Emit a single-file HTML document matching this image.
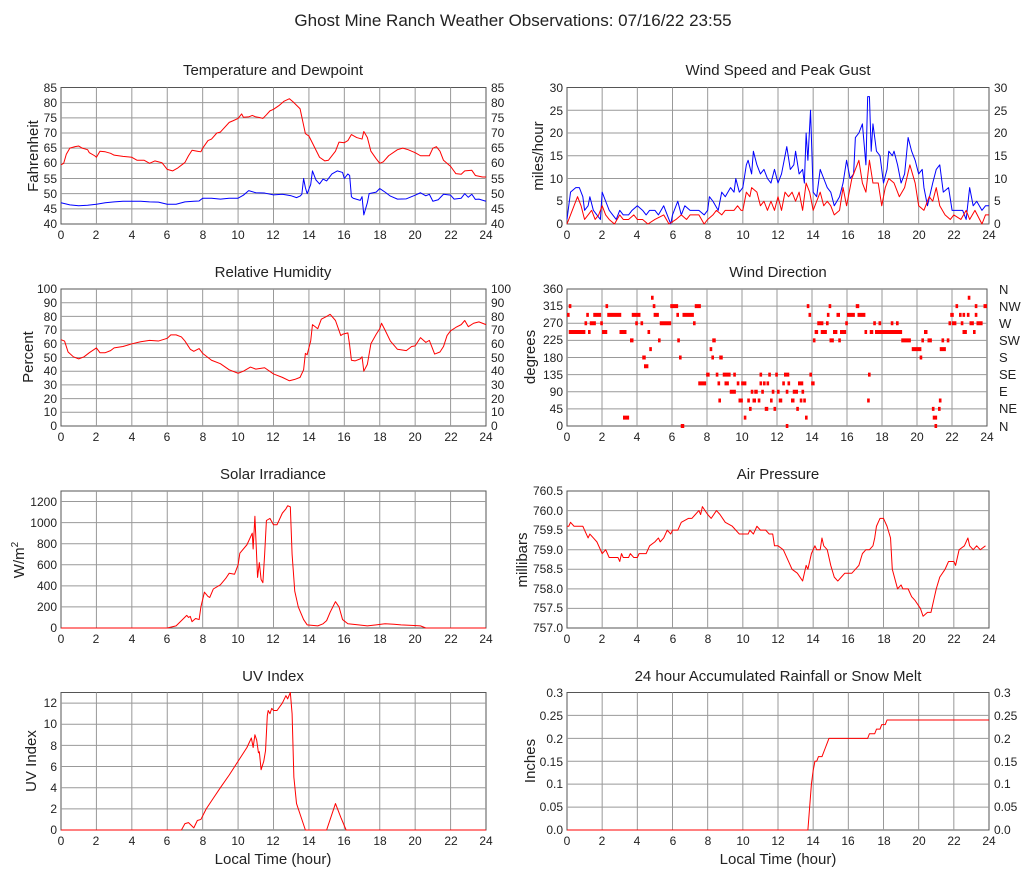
<!DOCTYPE html>
<html><head><meta charset="utf-8"><style>
body{margin:0;background:#fff}
svg{font-family:"Liberation Sans",sans-serif;fill:#222}
.t{font-size:12px}
.l text{text-anchor:end}
.r text{text-anchor:start}
.x text{text-anchor:middle}
.h{font-size:15px;text-anchor:middle}
.g{fill:none;stroke:#999;stroke-width:1}
.f{fill:none;stroke:#555;stroke-width:1}
.s{fill:none;stroke-width:1;stroke-linejoin:round}
</style></head><body>
<svg width="1027" height="878" viewBox="0 0 1027 878" xmlns="http://www.w3.org/2000/svg">
<rect width="1027" height="878" fill="#fff"/>
<text x="513" y="26" style="font-size:17px;text-anchor:middle">Ghost Mine Ranch Weather Observations: 07/16/22 23:55</text>

<text class="h" x="273" y="75">Temperature and Dewpoint</text>
<text class="h" x="778" y="75">Wind Speed and Peak Gust</text>
<text class="h" x="273" y="277">Relative Humidity</text>
<text class="h" x="778" y="277">Wind Direction</text>
<text class="h" x="273" y="479">Solar Irradiance</text>
<text class="h" x="778" y="479">Air Pressure</text>
<text class="h" x="273" y="681">UV Index</text>
<text class="h" x="778" y="681">24 hour Accumulated Rainfall or Snow Melt</text>
<text class="h" x="273" y="864">Local Time (hour)</text>
<text class="h" x="778" y="864">Local Time (hour)</text>

<text class="h" transform="translate(38,156) rotate(-90)">Fahrenheit</text>
<text class="h" transform="translate(33,357) rotate(-90)">Percent</text>
<text class="h" transform="translate(24,560) rotate(-90)">W/m<tspan dy="-6" font-size="10">2</tspan></text>
<text class="h" transform="translate(36,761) rotate(-90)">UV Index</text>
<text class="h" transform="translate(543,156) rotate(-90)">miles/hour</text>
<text class="h" transform="translate(535,357) rotate(-90)">degrees</text>
<text class="h" transform="translate(527,560) rotate(-90)">millibars</text>
<text class="h" transform="translate(535,761) rotate(-90)">Inches</text>

<!-- Temperature -->
<rect class="f" x="61" y="87.5" width="425" height="136.5"/>
<svg x="61" y="87.5" width="425" height="136.5" viewBox="0 -85 24 45" preserveAspectRatio="none" overflow="visible">
<path class="g" vector-effect="non-scaling-stroke" d="M0 -80H24M0 -75H24M0 -70H24M0 -65H24M0 -60H24M0 -55H24M0 -50H24M0 -45H24M2 -85V-40M4 -85V-40M6 -85V-40M8 -85V-40M10 -85V-40M12 -85V-40M14 -85V-40M16 -85V-40M18 -85V-40M20 -85V-40M22 -85V-40"/>
<polyline class="s" stroke="#f00" vector-effect="non-scaling-stroke" points="0,-59.5 0.15,-60 0.3,-63 0.5,-65 0.8,-65.5 1,-65.7 1.2,-65 1.5,-64.5 1.6,-63.5 1.9,-62.5 2,-62 2.2,-64 2.5,-63.8 2.8,-63.3 3,-62.7 3.5,-62.3 4,-62 4.3,-61 4.7,-61 5,-60 5.3,-60.8 5.7,-60.2 6,-58 6.3,-57.5 6.6,-58.5 7,-60.3 7.2,-62.5 7.4,-64.3 7.7,-64 7.9,-63.8 8,-65 8.3,-67.5 8.5,-68 8.8,-70 9,-70.3 9.5,-73.5 9.7,-74 10,-74.8 10.2,-76.3 10.3,-75.2 10.6,-75.3 10.8,-75.8 11,-75.3 11.2,-75.1 11.4,-74.8 11.6,-76 11.8,-77.3 12,-77.8 12.3,-79 12.6,-80.5 12.9,-81.3 13.1,-80.3 13.5,-78 13.8,-69.8 14,-69 14.3,-65.5 14.6,-62 14.9,-60.8 15.1,-61 15.5,-64 15.7,-67 16,-66.8 16.2,-67.5 16.4,-69.5 16.7,-68.5 17,-68 17.1,-70.5 17.3,-68.5 17.5,-64 17.8,-61.5 18,-60 18.2,-60.5 18.5,-62.5 19,-64.5 19.3,-65 19.6,-64.5 20,-63.5 20.3,-62.5 20.8,-62.5 21,-65 21.2,-65.5 21.4,-64 21.6,-61 22,-59 22.3,-56.6 22.6,-56.4 22.8,-57.5 23.2,-57.7 23.4,-56 23.8,-55.5 24,-55.5"/>
<polyline class="s" stroke="#00f" vector-effect="non-scaling-stroke" points="0,-47 0.5,-46.3 1,-46 1.5,-46.2 2,-46.5 2.5,-47 3,-47.3 3.5,-47.5 4,-47.5 4.5,-47.5 5,-47.3 5.5,-47.2 6,-46.5 6.5,-46.5 7,-47.3 7.5,-47.5 7.8,-47.6 8,-48.5 8.5,-48.5 9,-48.2 9.5,-48.5 10,-48.5 10.3,-49.5 10.6,-51 11,-50.3 11.5,-50.2 12,-49.6 12.5,-49.8 13,-49.3 13.3,-48.7 13.5,-49.2 13.6,-49.8 13.7,-55 13.8,-52 13.9,-50 14.1,-53 14.2,-57.5 14.4,-54.5 14.6,-53.2 14.8,-54.8 15,-54.2 15.3,-56.5 15.6,-57.5 15.9,-57 16,-55 16.2,-56.5 16.3,-56 16.4,-49 16.5,-48.5 16.9,-47.8 17,-49 17.1,-43 17.3,-47 17.4,-50 17.8,-50.5 18,-51.7 18.3,-50.5 18.6,-49.2 19,-48.2 19.5,-48.3 20,-49.5 20.3,-50.3 20.6,-49.3 20.8,-49.8 21,-47.5 21.3,-48 21.6,-49.8 22,-49.5 22.2,-48.2 22.6,-48.5 22.8,-50 23,-48.8 23.2,-49.8 23.4,-48.1 23.6,-48.2 24,-47.5"/>
</svg>
<g class="t l"><text x="57" y="92">85</text><text x="57" y="107">80</text><text x="57" y="122">75</text><text x="57" y="137">70</text><text x="57" y="152">65</text><text x="57" y="167">60</text><text x="57" y="183">55</text><text x="57" y="198">50</text><text x="57" y="213">45</text><text x="57" y="228">40</text></g>
<g class="t r"><text x="491" y="92">85</text><text x="491" y="107">80</text><text x="491" y="122">75</text><text x="491" y="137">70</text><text x="491" y="152">65</text><text x="491" y="167">60</text><text x="491" y="183">55</text><text x="491" y="198">50</text><text x="491" y="213">45</text><text x="491" y="228">40</text></g>
<g class="t x"><text x="61" y="239">0</text><text x="96" y="239">2</text><text x="132" y="239">4</text><text x="167" y="239">6</text><text x="203" y="239">8</text><text x="238" y="239">10</text><text x="273" y="239">12</text><text x="309" y="239">14</text><text x="344" y="239">16</text><text x="380" y="239">18</text><text x="415" y="239">20</text><text x="451" y="239">22</text><text x="486" y="239">24</text></g>

<!-- Humidity -->
<rect class="f" x="61" y="289" width="425" height="137"/>
<svg x="61" y="289" width="425" height="137" viewBox="0 -100 24 100" preserveAspectRatio="none" overflow="visible">
<path class="g" vector-effect="non-scaling-stroke" d="M0 -90H24M0 -80H24M0 -70H24M0 -60H24M0 -50H24M0 -40H24M0 -30H24M0 -20H24M0 -10H24M2 -100V0M4 -100V0M6 -100V0M8 -100V0M10 -100V0M12 -100V0M14 -100V0M16 -100V0M18 -100V0M20 -100V0M22 -100V0"/>
<polyline class="s" stroke="#f00" vector-effect="non-scaling-stroke" points="0,-63 0.2,-62 0.4,-54 0.7,-50.5 1,-49 1.3,-50.5 1.6,-53.5 2,-57 2.2,-53.5 2.5,-53.5 2.8,-55 3,-57 3.5,-58 4,-60 4.5,-61.5 5,-62.5 5.5,-62 6,-64 6.2,-66.5 6.5,-66.5 6.8,-65 7,-62 7.3,-56 7.5,-54.5 7.8,-56.5 8,-53 8.5,-48 9,-45.5 9.5,-41 10,-38.5 10.3,-40 10.7,-43 11,-41.5 11.5,-42.5 12,-38 12.5,-35.5 12.9,-33 13.2,-34 13.5,-35.5 13.7,-41 13.8,-53 13.9,-52 14.1,-62 14.2,-74 14.5,-71 14.7,-78 15,-80 15.2,-81.5 15.5,-77 15.8,-66 15.9,-67 16.2,-68 16.3,-59 16.4,-48 16.6,-47.5 16.9,-49 17,-50.5 17.1,-40 17.3,-45 17.5,-60 17.8,-67 18,-71 18.1,-75 18.3,-70 18.6,-62 19,-56 19.5,-55 19.8,-58 20,-58.5 20.3,-64.5 20.6,-61 20.8,-62.5 21.1,-52.5 21.4,-54 21.6,-58 21.8,-66 22,-69.5 22.3,-72 22.6,-74 22.8,-77 23,-72.5 23.3,-75 23.6,-76 24,-74"/>
</svg>
<g class="t l"><text x="57" y="293">100</text><text x="57" y="307">90</text><text x="57" y="321">80</text><text x="57" y="334">70</text><text x="57" y="348">60</text><text x="57" y="362">50</text><text x="57" y="375">40</text><text x="57" y="389">30</text><text x="57" y="403">20</text><text x="57" y="416">10</text><text x="57" y="430">0</text></g>
<g class="t r"><text x="491" y="293">100</text><text x="491" y="307">90</text><text x="491" y="321">80</text><text x="491" y="334">70</text><text x="491" y="348">60</text><text x="491" y="362">50</text><text x="491" y="375">40</text><text x="491" y="389">30</text><text x="491" y="403">20</text><text x="491" y="416">10</text><text x="491" y="430">0</text></g>
<g class="t x"><text x="61" y="441">0</text><text x="96" y="441">2</text><text x="132" y="441">4</text><text x="167" y="441">6</text><text x="203" y="441">8</text><text x="238" y="441">10</text><text x="273" y="441">12</text><text x="309" y="441">14</text><text x="344" y="441">16</text><text x="380" y="441">18</text><text x="415" y="441">20</text><text x="451" y="441">22</text><text x="486" y="441">24</text></g>

<!-- Solar -->
<rect class="f" x="61" y="491" width="425" height="137"/>
<svg x="61" y="491" width="425" height="137" viewBox="0 -1300 24 1300" preserveAspectRatio="none" overflow="visible">
<path class="g" vector-effect="non-scaling-stroke" d="M0 -1200H24M0 -1000H24M0 -800H24M0 -600H24M0 -400H24M0 -200H24M2 -1300V0M4 -1300V0M6 -1300V0M8 -1300V0M10 -1300V0M12 -1300V0M14 -1300V0M16 -1300V0M18 -1300V0M20 -1300V0M22 -1300V0"/>
<polyline class="s" stroke="#f00" vector-effect="non-scaling-stroke" points="0,0 6,0 6.5,-20 6.8,-70 7.1,-120 7.2,-100 7.3,-110 7.4,-60 7.6,-90 7.8,-80 7.9,-200 8.1,-340 8.3,-300 8.4,-290 8.6,-370 9,-410 9.3,-470 9.5,-520 9.8,-510 10,-600 10.1,-710 10.5,-790 10.8,-900 10.85,-750 10.95,-1060 11.1,-480 11.2,-620 11.3,-460 11.4,-430 11.5,-700 11.6,-1020 11.8,-1040 12,-980 12.2,-980 12.5,-1090 12.7,-1130 12.8,-1160 12.95,-1150 13.05,-700 13.2,-350 13.4,-200 13.7,-80 13.9,-30 14.5,-20 14.8,-40 15,-70 15.2,-150 15.5,-250 15.7,-200 15.9,-80 16.2,-40 16.8,-30 17.3,-20 17.8,-30 18.3,-40 18.8,-35 19.2,-30 19.8,-25 20.3,-20 20.6,0 24,0"/>
</svg>
<g class="t l"><text x="57" y="506">1200</text><text x="57" y="527">1000</text><text x="57" y="548">800</text><text x="57" y="569">600</text><text x="57" y="590">400</text><text x="57" y="611">200</text><text x="57" y="632">0</text></g>
<g class="t x"><text x="61" y="643">0</text><text x="96" y="643">2</text><text x="132" y="643">4</text><text x="167" y="643">6</text><text x="203" y="643">8</text><text x="238" y="643">10</text><text x="273" y="643">12</text><text x="309" y="643">14</text><text x="344" y="643">16</text><text x="380" y="643">18</text><text x="415" y="643">20</text><text x="451" y="643">22</text><text x="486" y="643">24</text></g>

<!-- UV -->
<rect class="f" x="61" y="692.5" width="425" height="137.5"/>
<svg x="61" y="692.5" width="425" height="137.5" viewBox="0 -13 24 13" preserveAspectRatio="none" overflow="visible">
<path class="g" vector-effect="non-scaling-stroke" d="M0 -12H24M0 -10H24M0 -8H24M0 -6H24M0 -4H24M0 -2H24M2 -13V0M4 -13V0M6 -13V0M8 -13V0M10 -13V0M12 -13V0M14 -13V0M16 -13V0M18 -13V0M20 -13V0M22 -13V0"/>
<polyline class="s" stroke="#f00" vector-effect="non-scaling-stroke" points="0,0 6.8,0 7,-0.6 7.2,-0.7 7.5,-0.2 7.7,-0.9 7.9,-1 8.2,-2 8.6,-3 9,-4 9.5,-5.2 10,-6.5 10.5,-7.8 10.75,-8.7 10.85,-7.8 10.95,-9 11.05,-8.5 11.15,-7.3 11.2,-7.4 11.3,-5.7 11.45,-6.5 11.55,-7.5 11.65,-10.8 11.7,-11.3 11.8,-11 11.9,-11.5 12,-11.3 12.2,-11.3 12.5,-12 12.7,-12.7 12.8,-12.4 12.95,-13 13.05,-11 13.15,-5 13.3,-2.5 13.5,-1.5 13.8,0 15,0 15.5,-2.5 15.8,-1.2 16.1,0 24,0"/>
</svg>
<g class="t l"><text x="57" y="707">12</text><text x="57" y="728">10</text><text x="57" y="750">8</text><text x="57" y="771">6</text><text x="57" y="792">4</text><text x="57" y="813">2</text><text x="57" y="834">0</text></g>
<g class="t x"><text x="61" y="845">0</text><text x="96" y="845">2</text><text x="132" y="845">4</text><text x="167" y="845">6</text><text x="203" y="845">8</text><text x="238" y="845">10</text><text x="273" y="845">12</text><text x="309" y="845">14</text><text x="344" y="845">16</text><text x="380" y="845">18</text><text x="415" y="845">20</text><text x="451" y="845">22</text><text x="486" y="845">24</text></g>

<!-- Wind speed -->
<rect class="f" x="567" y="87.5" width="422" height="136.5"/>
<svg x="567" y="87.5" width="422" height="136.5" viewBox="0 -30 24 30" preserveAspectRatio="none" overflow="visible">
<path class="g" vector-effect="non-scaling-stroke" d="M0 -25H24M0 -20H24M0 -15H24M0 -10H24M0 -5H24M2 -30V0M4 -30V0M6 -30V0M8 -30V0M10 -30V0M12 -30V0M14 -30V0M16 -30V0M18 -30V0M20 -30V0M22 -30V0"/>
<polyline class="s" stroke="#00f" vector-effect="non-scaling-stroke" points="0,-1 0.2,-7 0.5,-8 0.7,-8 0.9,-6 1,-3 1.2,-4 1.3,-6 1.5,-3 1.7,-2 1.9,-1 2,-7 2.2,-5 2.4,-3 2.6,-2 2.8,-1 3,-3 3.2,-2 3.5,-2 3.7,-3 4,-4 4.3,-3 4.5,-2 4.7,-3 5,-3 5.2,-2 5.5,-4 5.7,-2 5.9,0 6,-2 6.3,-5 6.5,-2 6.7,-4 7,-3 7.5,-3 7.8,-2 8,-3 8.1,-6 8.3,-5 8.6,-3 8.8,-7 9,-6 9.3,-8 9.5,-7 9.6,-10 9.8,-7 10,-8 10.2,-13 10.3,-14 10.5,-11 10.6,-16 10.8,-13 11,-11 11.2,-12 11.4,-10 11.6,-9 11.8,-12 12,-9 12.2,-11 12.4,-15 12.5,-17 12.7,-12 12.9,-13 13,-16 13.2,-11 13.4,-12 13.5,-9 13.6,-20 13.7,-14 13.85,-25 14,-7 14.2,-6 14.4,-12 14.6,-10 14.8,-8 15,-7 15.2,-4 15.5,-6 15.7,-9 15.9,-14 16.1,-10 16.3,-11 16.4,-19 16.6,-20 16.8,-22 17,-13 17.1,-28 17.2,-28 17.3,-16 17.4,-22 17.6,-16 17.8,-15 18,-9 18.2,-12 18.3,-16 18.5,-15 18.6,-16 18.8,-13 19,-9 19.2,-11 19.4,-19 19.6,-16 19.8,-14 20,-11 20.2,-12 20.3,-8 20.5,-4 20.8,-9 21,-12 21.2,-13 21.4,-7 21.7,-8 21.9,-3 22.2,-3 22.5,-3 22.7,-1 22.9,-8 23.1,-4 23.3,-5 23.6,-3 23.8,-4 24,-4"/>
<polyline class="s" stroke="#f00" vector-effect="non-scaling-stroke" points="0,0 0.2,-2 0.4,-4 0.6,-6 0.8,-4 1,-1 1.2,-2 1.4,-3 1.6,-1 1.8,-2 2,-4 2.2,-2 2.4,-1 2.7,0 3,-2 3.2,-1 3.5,-1 3.8,-2 4,-1 4.3,-1 4.6,0 5,-1 5.5,-2 5.8,0 6.2,-1 6.5,-2 6.8,-1 7,-2 7.5,-2 7.8,0 8,-1 8.3,-2 8.5,-3 8.8,-2 9,-3 9.5,-3 9.7,-4 9.9,-3 10,-3 10.2,-7 10.4,-6 10.5,-8 10.8,-7 11,-4 11.2,-5 11.4,-3 11.6,-5 11.8,-3 12,-6 12.2,-3 12.4,-7 12.6,-6 12.8,-7 13,-5 13.2,-7 13.4,-3 13.6,-9 13.8,-7 14,-3 14.2,-5 14.4,-7 14.6,-4 14.8,-5 15,-4 15.2,-2 15.5,-3 15.7,-8 15.9,-4 16.2,-10 16.4,-12 16.6,-14 16.8,-9 17,-7 17.2,-14 17.4,-9 17.7,-9 17.9,-4 18.1,-8 18.3,-10 18.6,-9 18.9,-6 19.2,-8 19.5,-13 19.8,-9 20,-4 20.3,-3 20.6,-6 20.8,-5 21,-8 21.2,-4 21.5,-2 21.8,-1 22,-2 22.4,-1 22.7,-3 22.9,-1 23.2,-3 23.6,0 23.8,-2 24,-2"/>
</svg>
<g class="t l"><text x="563" y="92">30</text><text x="563" y="115">25</text><text x="563" y="137">20</text><text x="563" y="160">15</text><text x="563" y="183">10</text><text x="563" y="205">5</text><text x="563" y="228">0</text></g>
<g class="t r"><text x="994" y="92">30</text><text x="994" y="115">25</text><text x="994" y="137">20</text><text x="994" y="160">15</text><text x="994" y="183">10</text><text x="994" y="205">5</text><text x="994" y="228">0</text></g>
<g class="t x"><text x="567" y="239">0</text><text x="602" y="239">2</text><text x="637" y="239">4</text><text x="673" y="239">6</text><text x="708" y="239">8</text><text x="743" y="239">10</text><text x="778" y="239">12</text><text x="813" y="239">14</text><text x="848" y="239">16</text><text x="884" y="239">18</text><text x="919" y="239">20</text><text x="954" y="239">22</text><text x="989" y="239">24</text></g>

<!-- Wind direction -->
<rect class="f" x="567" y="289" width="420" height="137"/>
<svg x="567" y="289" width="420" height="137" viewBox="0 -360 24 360" preserveAspectRatio="none" overflow="visible">
<path class="g" vector-effect="non-scaling-stroke" d="M0 -315H24M0 -270H24M0 -225H24M0 -180H24M0 -135H24M0 -90H24M0 -45H24M2 -360V0M4 -360V0M6 -360V0M8 -360V0M10 -360V0M12 -360V0M14 -360V0M16 -360V0M18 -360V0M20 -360V0M22 -360V0"/>
<path fill="none" stroke="#f00" stroke-width="4" vector-effect="non-scaling-stroke" d="M0 -292h0.15M0.1 -315h0.15M0.1 -247h0.95M1 -270h0.15M1.1 -292h0.15M1.2 -247h0.15M1.3 -270h0.35M1.5 -292h0.45M1.9 -270h0.15M2 -247h0.3M2.2 -315h0.15M2.3 -292h0.8M3 -247h0.4M3.2 -22h0.35M3.6 -225h0.2M3.7 -292h0.5M3.9 -270h0.15M4.2 -270h0.15M4.3 -180h0.2M4.4 -157h0.25M4.6 -247h0.15M4.7 -202h0.15M4.8 -337h0.15M4.9 -315h0.15M4.95 -292h0.3M5.2 -225h0.15M5.3 -270h0.65M5.9 -315h0.45M6.25 -292h0.15M6.3 -225h0.15M6.4 -180h0.15M6.5 -0h0.2M6.6 -292h0.65M7.2 -270h0.15M7.3 -315h0.35M7.5 -112h0.45M7.95 -135h0.2M8.15 -202h0.15M8.25 -180h0.15M8.3 -225h0.2M8.5 -135h0.15M8.6 -112h0.15M8.65 -67h0.15M8.7 -180h0.2M8.9 -135h0.45M9 -112h0.25M9.3 -90h0.35M9.5 -135h0.15M9.7 -112h0.15M9.8 -67h0.25M9.95 -112h0.3M10.1 -22h0.15M10.3 -67h0.15M10.4 -45h0.15M10.5 -90h0.15M10.6 -67h0.2M10.7 -90h0.2M10.9 -67h0.15M11 -112h0.15M11 -135h0.15M11.1 -90h0.15M11.2 -112h0.15M11.3 -45h0.2M11.4 -112h0.15M11.5 -135h0.15M11.6 -67h0.15M11.7 -90h0.15M11.8 -45h0.15M11.9 -135h0.15M12 -90h0.15M12.1 -67h0.2M12.3 -112h0.15M12.4 -135h0.3M12.5 -90h0.15M12.5 -0h0.15M12.6 -112h0.15M12.8 -67h0.2M12.9 -90h0.3M13.1 -45h0.15M13.2 -112h0.3M13.3 -67h0.15M13.4 -90h0.15M13.5 -67h0.15M13.6 -22h0.15M13.7 -315h0.15M13.8 -292h0.15M13.85 -135h0.15M13.95 -112h0.2M14.05 -225h0.15M14.15 -247h0.2M14.3 -270h0.35M14.5 -247h0.35M14.8 -270h0.15M14.85 -292h0.15M14.95 -315h0.15M15 -225h0.25M15.2 -247h0.25M15.4 -292h0.2M15.5 -225h0.15M15.6 -247h0.35M15.9 -270h0.15M16 -292h0.45M16.5 -315h0.2M16.6 -292h0.45M17 -247h0.15M17.15 -67h0.15M17.2 -135h0.15M17.3 -247h0.2M17.5 -270h0.15M17.6 -247h0.15M17.8 -270h0.15M17.7 -247h1.45M18.5 -270h0.15M18.8 -270h0.15M19.1 -225h0.55M19.7 -202h0.55M20.15 -180h0.15M20.25 -225h0.15M20.4 -247h0.2M20.6 -225h0.25M20.85 -45h0.15M20.9 -22h0.25M21 -0h0.15M21.2 -45h0.15M21.25 -67h0.15M21.3 -202h0.35M21.4 -225h0.15M21.7 -225h0.15M21.8 -270h0.15M21.9 -292h0.2M22 -270h0.25M22.2 -315h0.15M22.4 -292h0.15M22.5 -270h0.15M22.6 -292h0.15M22.6 -247h0.25M22.85 -292h0.15M22.9 -337h0.15M23 -270h0.25M23.2 -247h0.15M23.3 -315h0.15M23.3 -292h0.15M23.4 -270h0.35M23.8 -315h0.2"/>
</svg>
<g class="t l"><text x="563" y="293">360</text><text x="563" y="310">315</text><text x="563" y="327">270</text><text x="563" y="344">225</text><text x="563" y="362">180</text><text x="563" y="379">135</text><text x="563" y="396">90</text><text x="563" y="413">45</text><text x="563" y="430">0</text></g>
<g class="t r" style="font-size:13px"><text x="999" y="294">N</text><text x="999" y="311">NW</text><text x="999" y="328">W</text><text x="999" y="345">SW</text><text x="999" y="362">S</text><text x="999" y="379">SE</text><text x="999" y="396">E</text><text x="999" y="413">NE</text><text x="999" y="431">N</text></g>
<g class="t x"><text x="567" y="441">0</text><text x="602" y="441">2</text><text x="637" y="441">4</text><text x="672" y="441">6</text><text x="707" y="441">8</text><text x="742" y="441">10</text><text x="777" y="441">12</text><text x="812" y="441">14</text><text x="847" y="441">16</text><text x="882" y="441">18</text><text x="917" y="441">20</text><text x="952" y="441">22</text><text x="987" y="441">24</text></g>

<!-- Pressure -->
<rect class="f" x="567" y="491" width="422" height="137"/>
<svg x="567" y="491" width="422" height="137" viewBox="0 -760.5 24 3.5" preserveAspectRatio="none" overflow="visible">
<path class="g" vector-effect="non-scaling-stroke" d="M0 -760H24M0 -759.5H24M0 -759H24M0 -758.5H24M0 -758H24M0 -757.5H24M2 -760.5V-757M4 -760.5V-757M6 -760.5V-757M8 -760.5V-757M10 -760.5V-757M12 -760.5V-757M14 -760.5V-757M16 -760.5V-757M18 -760.5V-757M20 -760.5V-757M22 -760.5V-757"/>
<polyline class="s" stroke="#f00" vector-effect="non-scaling-stroke" points="0,-759.6 0.1,-759.6 0.2,-759.7 0.4,-759.6 0.9,-759.6 1,-759.5 1.1,-759.4 1.2,-759.3 1.3,-759.4 1.5,-759.3 1.7,-759.2 1.9,-759 2,-758.9 2.2,-759 2.3,-758.9 2.4,-758.8 2.9,-758.8 3,-758.7 3.1,-758.9 3.2,-758.8 3.5,-758.8 3.6,-758.9 3.8,-758.8 4,-758.8 4.1,-758.9 4.5,-758.9 4.7,-759.1 5,-759.2 5.2,-759.3 5.3,-759.2 5.5,-759.3 5.7,-759.5 5.9,-759.4 6,-759.5 6.3,-759.5 6.5,-759.7 6.9,-759.8 7.1,-759.8 7.3,-759.9 7.5,-760 7.6,-759.9 7.7,-760.1 8,-759.9 8.2,-759.8 8.5,-760 8.7,-759.9 9,-759.7 9.4,-759.6 9.6,-759.5 9.8,-759.4 10,-759.4 10.3,-759.4 10.4,-759.5 10.6,-759.4 10.8,-759.6 11,-759.5 11.3,-759.5 11.5,-759.4 11.7,-759.4 11.8,-759.1 12,-759.1 12.3,-759 12.6,-758.7 12.8,-758.5 13.1,-758.4 13.4,-758.2 13.6,-758.6 13.7,-758.5 13.9,-758.9 14.1,-759.1 14.2,-759 14.4,-759 14.5,-759.3 14.6,-759.1 14.8,-759 15,-758.6 15.2,-758.3 15.4,-758.2 15.6,-758.3 15.8,-758.4 16.2,-758.4 16.4,-758.5 16.6,-758.6 16.8,-758.9 17,-759 17.2,-759 17.4,-759.1 17.5,-759.3 17.6,-759.6 17.8,-759.8 18,-759.8 18.2,-759.6 18.4,-759.3 18.5,-758.5 18.8,-758 19,-758.1 19.1,-758 19.4,-758 19.6,-757.8 19.8,-757.7 20.1,-757.5 20.25,-757.3 20.5,-757.4 20.7,-757.4 20.9,-757.8 21,-758 21.2,-758.3 21.5,-758.5 21.6,-758.6 21.7,-758.7 22,-758.7 22.1,-758.6 22.3,-759 22.6,-759.1 22.8,-759.3 22.9,-759.1 23.1,-759 23.3,-759.1 23.5,-759 23.8,-759.1"/>
</svg>
<g class="t l"><text x="563" y="495">760.5</text><text x="563" y="515">760.0</text><text x="563" y="534">759.5</text><text x="563" y="554">759.0</text><text x="563" y="573">758.5</text><text x="563" y="593">758.0</text><text x="563" y="612">757.5</text><text x="563" y="632">757.0</text></g>
<g class="t x"><text x="567" y="643">0</text><text x="602" y="643">2</text><text x="637" y="643">4</text><text x="673" y="643">6</text><text x="708" y="643">8</text><text x="743" y="643">10</text><text x="778" y="643">12</text><text x="813" y="643">14</text><text x="848" y="643">16</text><text x="884" y="643">18</text><text x="919" y="643">20</text><text x="954" y="643">22</text><text x="989" y="643">24</text></g>

<!-- Rain -->
<rect class="f" x="567" y="692.5" width="422" height="137.5"/>
<svg x="567" y="692.5" width="422" height="137.5" viewBox="0 -0.3 24 0.3" preserveAspectRatio="none" overflow="visible">
<path class="g" vector-effect="non-scaling-stroke" d="M0 -0.25H24M0 -0.2H24M0 -0.15H24M0 -0.1H24M0 -0.05H24M2 -0.3V0M4 -0.3V0M6 -0.3V0M8 -0.3V0M10 -0.3V0M12 -0.3V0M14 -0.3V0M16 -0.3V0M18 -0.3V0M20 -0.3V0M22 -0.3V0"/>
<polyline class="s" stroke="#f00" vector-effect="non-scaling-stroke" points="0,0 13.7,0 13.8,-0.05 13.9,-0.1 14,-0.13 14.1,-0.15 14.2,-0.15 14.3,-0.16 14.5,-0.16 14.7,-0.18 14.8,-0.19 14.9,-0.2 17.1,-0.2 17.2,-0.21 17.5,-0.21 17.6,-0.22 17.8,-0.22 17.9,-0.23 18.1,-0.23 18.2,-0.24 24,-0.24"/>
</svg>
<g class="t l"><text x="563" y="697">0.3</text><text x="563" y="720">0.25</text><text x="563" y="743">0.2</text><text x="563" y="766">0.15</text><text x="563" y="788">0.1</text><text x="563" y="811">0.05</text><text x="563" y="834">0.0</text></g>
<g class="t r"><text x="994" y="697">0.3</text><text x="994" y="720">0.25</text><text x="994" y="743">0.2</text><text x="994" y="766">0.15</text><text x="994" y="788">0.1</text><text x="994" y="811">0.05</text><text x="994" y="834">0.0</text></g>
<g class="t x"><text x="567" y="845">0</text><text x="602" y="845">2</text><text x="637" y="845">4</text><text x="673" y="845">6</text><text x="708" y="845">8</text><text x="743" y="845">10</text><text x="778" y="845">12</text><text x="813" y="845">14</text><text x="848" y="845">16</text><text x="884" y="845">18</text><text x="919" y="845">20</text><text x="954" y="845">22</text><text x="989" y="845">24</text></g>
</svg>
</body></html>
